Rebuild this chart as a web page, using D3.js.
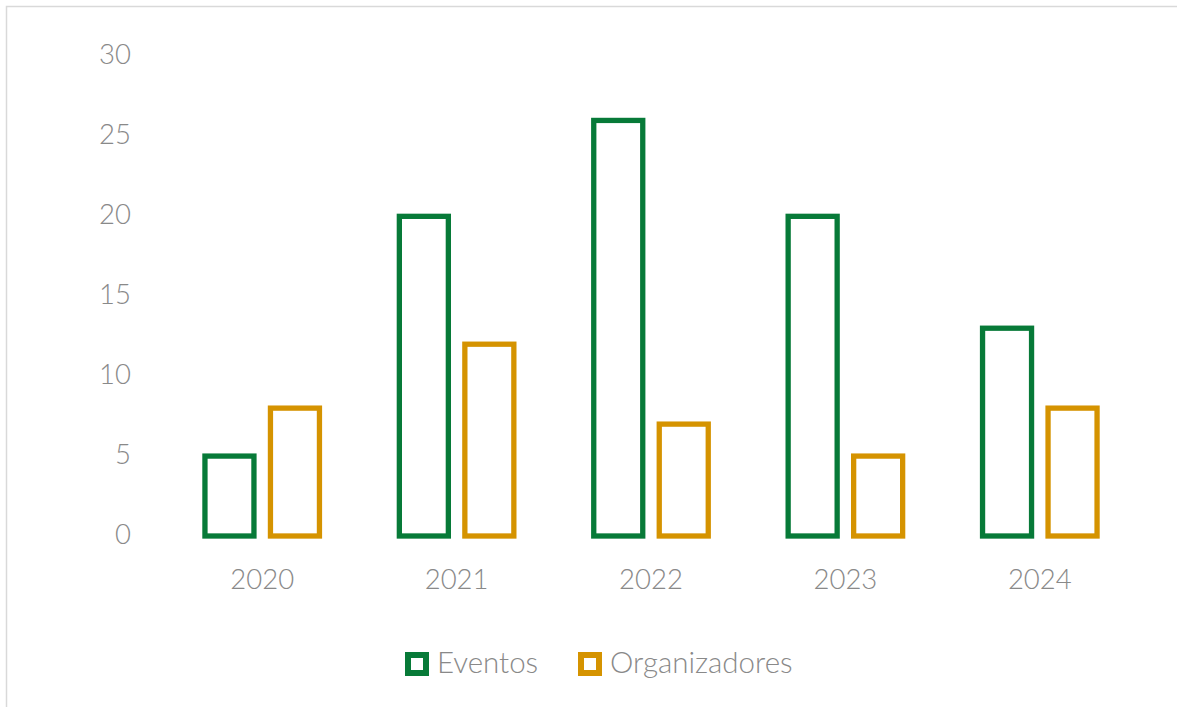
<!DOCTYPE html>
<html>
<head>
<meta charset="utf-8">
<script src="https://cdn.jsdelivr.net/npm/d3@7"></script>
<style>
  html, body { margin: 0; padding: 0; background: #fff; }
  svg { display: block; }
  text { font-family: Lato, "Open Sans", sans-serif; fill: #898989; font-weight: 300; }
</style>
</head>
<body>
<svg id="chart" width="1177" height="707"></svg>
<script>
const categories = ["2020", "2021", "2022", "2023", "2024"];
const seriesNames = ["Eventos", "Organizadores"];
const eventos = [5, 20, 26, 20, 13];
const organizadores = [8, 12, 7, 5, 8];
const yTicks = [0, 5, 10, 15, 20, 25, 30];
const colors = ["#077a38", "#d59300"];

const svg = d3.select("#chart");
svg.append("rect").attr("x", 0).attr("y", 0).attr("width", 1177).attr("height", 707).attr("fill", "#fff");
svg.append("rect").attr("x", 6.5).attr("y", 6.5).attr("width", 1300).attr("height", 900)
  .attr("fill", "none").attr("stroke", "#d9d9d9").attr("stroke-width", 1.5);

const x = d3.scaleBand().domain(categories).range([165, 1137]).padding(0);
const xSub = d3.scaleBand().domain(seriesNames).range([-65.5, 65.5]).padding(0);
const y = d3.scaleLinear().domain([0, 30]).range([536, 56.5]);
const barW = 49;

const data = [eventos, organizadores];
seriesNames.forEach((s, si) => {
  svg.append("g").selectAll("rect").data(categories).join("rect")
    .attr("x", c => x(c) + x.bandwidth() / 2 + xSub(s) + xSub.bandwidth() / 2 - barW / 2)
    .attr("y", (c, i) => y(data[si][i]))
    .attr("width", barW)
    .attr("height", (c, i) => y(0) - y(data[si][i]))
    .attr("fill", "none")
    .attr("stroke", colors[si])
    .attr("stroke-width", 5.3);
});

// y axis labels
const yAxis = d3.axisLeft(y).tickValues(yTicks).tickSize(0).tickPadding(0).tickFormat(d3.format("d"));
const gy = svg.append("g").attr("transform", "translate(131,0)").call(yAxis);
gy.select(".domain").remove();
gy.selectAll("text").attr("font-size", 27.5).attr("dy", "0.32em").attr("y", -1.5)
  .style("font-family", "Lato, 'Open Sans', sans-serif").attr("fill", "#898989");

// x axis labels
const xAxis = d3.axisBottom(x).tickSize(0).tickPadding(0);
const gx = svg.append("g").attr("transform", "translate(0,579)").call(xAxis);
gx.select(".domain").remove();
gx.selectAll("text").attr("font-size", 27.5).attr("dy", "0.35em").attr("y", 0)
  .style("font-family", "Lato, 'Open Sans', sans-serif").attr("fill", "#898989");

// legend
const legendX = [405, 578];
seriesNames.forEach((s, i) => {
  svg.append("rect").attr("x", legendX[i] + 3).attr("y", 655).attr("width", 18).attr("height", 18)
    .attr("fill", "none").attr("stroke", colors[i]).attr("stroke-width", 6);
  svg.append("text").attr("x", legendX[i] + 32).attr("y", 663).attr("dy", "0.35em")
    .attr("font-size", 29.5).text(s);
});
</script>
</body>
</html>
